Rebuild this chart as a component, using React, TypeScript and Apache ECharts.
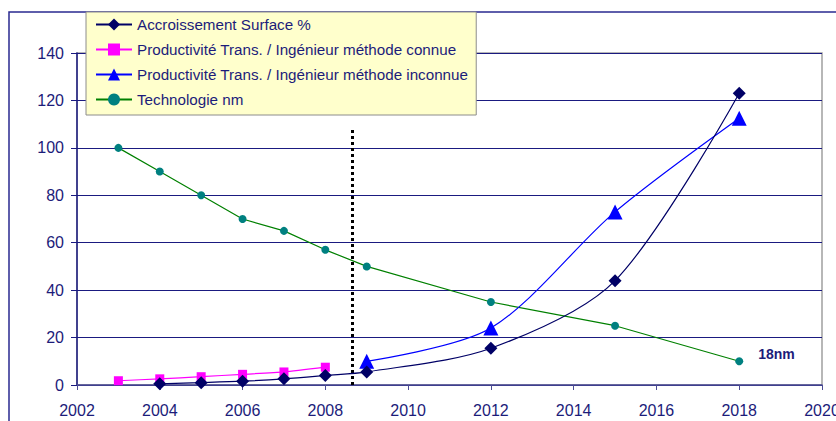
import React, { useEffect, useRef } from "react";
import * as echarts from "echarts";

const seriesNames = [
  "Accroissement Surface %",
  "Productivité Trans. / Ingénieur méthode connue",
  "Productivité Trans. / Ingénieur méthode inconnue",
  "Technologie nm",
];

const surfaceYears = [2004, 2005, 2006, 2007, 2008, 2009, 2012, 2015, 2018];
const surfaceValues = [0.5, 1, 1.6, 2.6, 4, 5.5, 15.5, 44, 123];

const connueYears = [2003, 2004, 2005, 2006, 2007, 2008];
const connueValues = [1.8, 2.6, 3.5, 4.5, 5.5, 7.5];

const inconnueYears = [2009, 2012, 2015, 2018];
const inconnueValues = [10, 24, 73, 112.5];

const techYears = [2003, 2004, 2005, 2006, 2007, 2008, 2009, 2012, 2015, 2018];
const techValues = [100, 90, 80, 70, 65, 57, 50, 35, 25, 10];

const techLastLabel = "18nm";
const markerYear = 2008.65;
const markerTop = 108;

const NAVY = "#1c1c7a";
const FONT = "Liberation Sans, Arial, sans-serif";

const pairs = (xs: number[], ys: number[]) => xs.map((x, i) => [x, ys[i]]);

export default function App() {
  const ref = useRef<HTMLDivElement>(null);
  useEffect(() => {
    if (!ref.current) return;
    const chart = echarts.init(ref.current, undefined, { renderer: "svg" });
    const techData: any[] = pairs(techYears, techValues);
    const last = techData.length - 1;
    techData[last] = {
      value: techData[last],
      label: {
        show: true,
        formatter: techLastLabel,
        position: "right",
        offset: [10, -7],
        color: NAVY,
        fontWeight: "bold",
        fontSize: 14,
        fontFamily: FONT,
      },
    };
    chart.setOption({
      animation: false,
      backgroundColor: "#ffffff",
      textStyle: { fontFamily: FONT },
      graphic: [
        {
          type: "rect",
          shape: { x: 9, y: 12, width: 840, height: 420 },
          style: { fill: "none", stroke: "#2a2a90", lineWidth: 1.5 },
          silent: true,
          z: 0,
        },
      ],
      grid: {
        left: 77,
        right: 14,
        top: 53,
        bottom: 36,
        containLabel: false,
        outerBoundsMode: "none",
        show: true,
        borderColor: "#a0a0a0",
        borderWidth: 1.5,
        backgroundColor: "transparent",
      },
      legend: {
        orient: "vertical",
        left: 86,
        top: 12,
        padding: [5, 8, 8, 9],
        itemGap: 10,
        itemWidth: 36,
        itemHeight: 15,
        backgroundColor: "#ffffcc",
        borderColor: "#8c8c8c",
        borderWidth: 1,
        textStyle: { color: NAVY, fontSize: 15.2, lineHeight: 15, fontFamily: FONT },
        data: seriesNames,
        z: 10,
      },
      xAxis: {
        type: "value",
        min: 2002,
        max: 2020,
        interval: 2,
        axisLine: { show: true, lineStyle: { color: "#4c4c94", width: 1.5 } },
        axisTick: { show: true, inside: false, length: 5, lineStyle: { color: "#4c4c94" } },
        axisLabel: {
          color: NAVY,
          fontSize: 16,
          margin: 17,
          fontFamily: FONT,
          formatter: (v: number) => String(v),
          hideOverlap: false,
        },
        splitLine: { show: false },
      },
      yAxis: {
        type: "value",
        min: 0,
        max: 140,
        interval: 20,
        axisLine: { show: true, lineStyle: { color: "#1a1a80", width: 1.5 } },
        axisTick: { show: true, inside: false, length: 6, lineStyle: { color: "#1a1a80" } },
        axisLabel: { color: NAVY, fontSize: 16, margin: 13, fontFamily: FONT },
        splitLine: { show: true, lineStyle: { color: "#1a1a80", width: 1 } },
      },
      series: [
        {
          name: seriesNames[0],
          type: "line",
          data: pairs(surfaceYears, surfaceValues),
          smooth: 0.3,
          symbol: "diamond",
          symbolSize: 13,
          color: "#000066",
          itemStyle: { color: "#000066" },
          lineStyle: { color: "#000066", width: 1.2 },
          z: 5,
          markLine: {
            silent: true,
            symbol: "none",
            label: { show: false },
            lineStyle: { color: "#000000", type: [3, 3], width: 3 },
            data: [[{ coord: [markerYear, 0] }, { coord: [markerYear, markerTop] }]],
          },
        },
        {
          name: seriesNames[1],
          type: "line",
          data: pairs(connueYears, connueValues),
          smooth: 0.2,
          symbol: "rect",
          symbolSize: 9,
          color: "#ff00ff",
          itemStyle: { color: "#ff00ff" },
          lineStyle: { color: "#ff00ff", width: 1.2 },
          z: 4,
        },
        {
          name: seriesNames[2],
          type: "line",
          data: pairs(inconnueYears, inconnueValues),
          smooth: 0.3,
          symbol: "triangle",
          symbolSize: 15,
          color: "#0000ff",
          itemStyle: { color: "#0000ff" },
          lineStyle: { color: "#0000ff", width: 1.2 },
          z: 4,
        },
        {
          name: seriesNames[3],
          type: "line",
          data: techData,
          symbol: "circle",
          symbolSize: 8,
          color: "#008080",
          itemStyle: { color: "#008080" },
          lineStyle: { color: "#008000", width: 1.2 },
          z: 3,
        },
      ],
    });
    return () => chart.dispose();
  }, []);
  return <div ref={ref} style={{ width: 836, height: 421, position: "absolute", left: 0, top: 0 }} />;
}
